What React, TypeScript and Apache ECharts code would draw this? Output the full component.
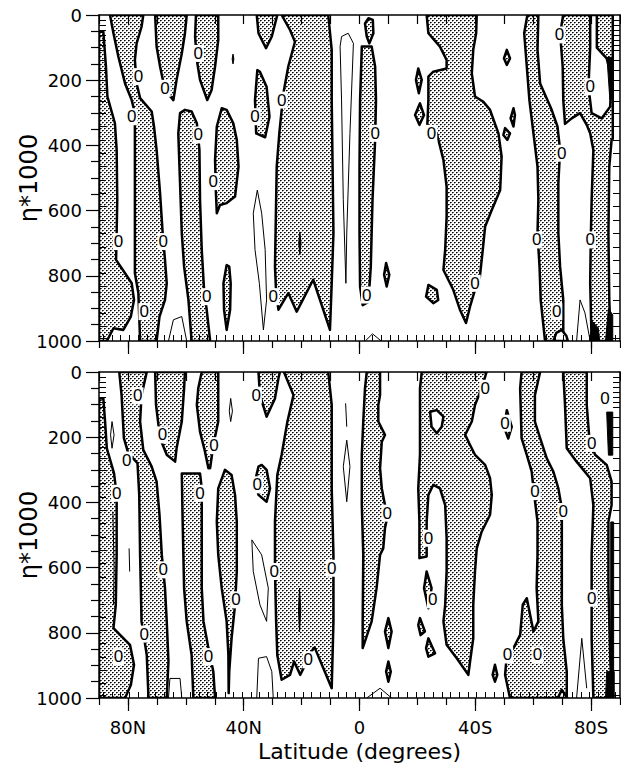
import React, { useEffect, useRef } from 'react';
import * as echarts from 'echarts';

// ---------- axis tick values ----------
const X_LABEL_LATS = [80, 40, 0, -40, -80];
const GRID_LATS = [88.5, 85.5, 82.5, 79.5, 76.5, 73.5, 70.5, 67.5, 64.5, 61.5, 58.5, 55.5, 52.5, 49.5, 46.5, 43.5, 40.5, 37.5, 34.5, 31.5, 28.5, 25.5, 22.5, 19.5, 16.5, 13.5, 10.5, 7.5, 4.5, 1.5, -1.5, -4.5, -7.5, -10.5, -13.5, -16.5, -19.5, -22.5, -25.5, -28.5, -31.5, -34.5, -37.5, -40.5, -43.5, -46.5, -49.5, -52.5, -55.5, -58.5, -61.5, -64.5, -67.5, -70.5, -73.5, -76.5, -79.5, -82.5, -85.5, -88.5];
const ETA_LEVELS = [15, 31, 46, 61, 77, 92, 107, 138, 169, 199, 230, 266, 301, 342, 383, 424, 465, 506, 547, 588, 629, 670, 711, 751, 792, 833, 874, 915, 956, 991];

// ---------- top panel: [latitude, eta*1000] ----------
const topNegative = [
  [[90, 51], [88.5, 51], [87.6, 158], [87.1, 250], [84.5, 332], [83.9, 414], [83.7, 567], [83.9, 669], [84.1, 751], [81.0, 792], [78.7, 823], [77.9, 874], [79.0, 925], [81.6, 966], [85.0, 961], [87.3, 1000], [90, 1000]],
  [[86.2, 0], [85.0, 56], [83.3, 128], [81.0, 210], [78.7, 261], [77.6, 301], [77.6, 567], [77.6, 792], [76.4, 853], [75.8, 1000], [70.1, 1000], [69.1, 925], [67.2, 874], [66.6, 823], [67.2, 751], [68.0, 669], [68.9, 547], [70.1, 414], [71.0, 342], [71.8, 296], [75.8, 255], [77.0, 210], [77.6, 138], [77.0, 87], [75.3, 36], [74.7, 0]],
  [[70.6, 0], [70.1, 97], [68.9, 158], [67.2, 230], [64.3, 261], [63.2, 199], [61.4, 118], [60.3, 56], [59.7, 0]],
  [[56.5, 0], [56.8, 66], [56.2, 138], [55.1, 199], [52.6, 261], [51.1, 230], [49.9, 158], [48.8, 77], [48.8, 0]],
  [[62.0, 301], [62.6, 363], [62.0, 516], [61.4, 669], [60.6, 772], [59.1, 874], [58.0, 1000], [51.6, 1000], [52.8, 904], [53.7, 843], [54.5, 720], [55.1, 567], [55.3, 414], [56.2, 332], [58.0, 296], [60.3, 291]],
  [[47.6, 286], [49.3, 342], [49.9, 445], [49.6, 547], [49.3, 608], [48.2, 583], [45.9, 577], [43.0, 557], [41.8, 465], [42.4, 383], [43.6, 332], [45.9, 291]],
  [[45.9, 767], [47.0, 823], [46.8, 904], [45.9, 966], [44.7, 904], [44.5, 823], [45.0, 772]],
  [[35.3, 169], [36.1, 261], [35.7, 363], [32.6, 375], [31.1, 312], [32.1, 220], [34.4, 174]],
  [[35.5, 0], [34.9, 56], [32.3, 102], [30.3, 66], [28.4, 0]],
  [[26.9, 0], [24.0, 46], [22.3, 82], [24.6, 158], [26.3, 240], [27.7, 363], [28.6, 465], [28.9, 618], [29.2, 772], [28.8, 853], [28.0, 904], [24.6, 853], [21.7, 910], [16.0, 812], [10.2, 966], [9.6, 823], [9.0, 669], [9.3, 465], [9.6, 261], [9.6, 107], [10.8, 0]],
  [[-1.9, 26], [-2.5, 66], [-3.4, 87], [-4.8, 56], [-4.6, 15], [-3.1, 10]],
  [[-0.8, 97], [-0.2, 261], [0.0, 465], [0.0, 669], [-0.2, 833], [-1.1, 890], [-3.1, 880], [-3.9, 772], [-4.5, 567], [-5.4, 383], [-5.7, 261], [-5.4, 158], [-4.2, 97]],
  [[-23.2, 0], [-23.8, 56], [-27.8, 97], [-30.1, 138], [-30.1, 164], [-25.5, 174], [-23.8, 189], [-23.8, 261], [-23.4, 342], [-24.4, 368], [-26.7, 363], [-29.0, 445], [-30.1, 526], [-30.1, 618], [-29.6, 720], [-29.0, 782], [-32.4, 843], [-34.7, 904], [-36.8, 945], [-38.2, 894], [-39.9, 843], [-41.6, 802], [-42.6, 720], [-43.4, 649], [-45.7, 598], [-48.6, 537], [-49.1, 434], [-48.0, 363], [-45.1, 291], [-42.8, 266], [-39.9, 250], [-38.8, 179], [-39.3, 107], [-40.3, 56], [-40.5, 0]],
  [[-50.9, 107], [-52.0, 133], [-50.9, 153], [-49.9, 133]],
  [[-20.3, 164], [-21.5, 199], [-20.5, 240], [-19.5, 199]],
  [[-20.9, 271], [-22.3, 307], [-20.7, 337], [-19.2, 307]],
  [[-50.3, 347], [-52.0, 363], [-51.1, 383], [-49.7, 368]],
  [[-53.2, 286], [-53.7, 307], [-53.2, 342], [-52.2, 317]],
  [[-9.2, 761], [-10.3, 797], [-9.4, 833], [-8.5, 797]],
  [[-23.8, 828], [-26.7, 843], [-27.2, 874], [-25.5, 884], [-23.0, 864]],
  [[-58.0, 0], [-56.9, 56], [-57.8, 158], [-58.7, 261], [-60.1, 363], [-61.5, 465], [-61.8, 567], [-61.5, 669], [-62.2, 772], [-62.6, 874], [-64.1, 1000], [-70.4, 1000], [-70.4, 874], [-69.3, 772], [-68.7, 669], [-68.7, 516], [-69.3, 414], [-68.4, 342], [-66.4, 291], [-62.4, 210], [-61.5, 107], [-61.8, 0]],
  [[-70.4, 0], [-87.5, 0], [-87.5, 380], [-87.1, 383], [-86.3, 465], [-86.0, 669], [-86.3, 874], [-86.8, 1000], [-80.2, 1000], [-79.7, 823], [-79.9, 690], [-80.2, 567], [-80.8, 414], [-79.7, 363], [-78.5, 337], [-76.2, 301], [-73.3, 317], [-71.0, 334], [-70.4, 261], [-70.2, 158], [-69.3, 56]],
];
const topHoles = [
  [[-79.7, 0], [-79.7, 100], [-79.1, 220], [-80.2, 301], [-83.7, 317], [-86.6, 281], [-87.1, 189], [-85.4, 133], [-82.0, 100], [-82.0, 0]],
  [[-67.0, 1000], [-68.0, 975], [-69.9, 966], [-71.5, 985], [-72.0, 1000]],
];
const topThin = [
  [[66.0, 1000], [64.3, 935], [61.4, 925], [59.7, 1000]],
  [[35.3, 537], [36.7, 608], [36.1, 720], [34.6, 823], [33.2, 966], [32.1, 874], [32.6, 720], [33.8, 608], [35.3, 537]],
  [[6.2, 66], [3.9, 56], [2.1, 87], [3.3, 363], [4.4, 669], [4.7, 823], [5.6, 567], [6.2, 261], [6.7, 97], [6.2, 66]],
  [[-75.0, 1000], [-76.2, 874], [-77.9, 914], [-79.7, 1000]],
  [[-2.0, 1000], [-4.5, 978], [-7.5, 1000]],
];
const topDense = [
  [[-79.5, 1000], [-80.5, 940], [-82.5, 960], [-83.0, 1000]],
  [[-85.0, 1000], [-86.0, 900], [-87.5, 920], [-87.5, 1000]],
  [[-85.5, 130], [-87.5, 130], [-87.5, 260], [-86.5, 260]],
  [[43.7, 120], [43.4, 135], [43.7, 150], [44.0, 135]],
  [[20.6, 665], [20.2, 700], [20.6, 735], [21.0, 700]],
];
const topZeroLabels = [
  [76.4, 189], [78.7, 312], [83.3, 695], [67.8, 695], [74.4, 910], [67.2, 225], [55.7, 118], [55.7, 368], [50.5, 511], [52.8, 864], [36.1, 312], [26.9, 261], [29.8, 864],
  [-5.4, 363], [-2.5, 859], [-24.9, 363], [-39.9, 823], [-69.9, 424], [-61.2, 690], [-68.1, 910], [-69.1, 61], [-79.7, 220], [-79.7, 690],
];

// ---------- bottom panel ----------
const botNegative = [
  [[90, 81], [88.5, 81], [87.9, 152], [87.3, 234], [84.8, 311], [83.9, 377], [83.9, 561], [84.2, 714], [85.0, 786], [82.2, 811], [79.3, 837], [77.9, 898], [79.0, 960], [81.0, 1000], [90, 1000]],
  [[83.0, 0], [82.2, 71], [81.4, 203], [79.9, 249], [76.7, 280], [76.1, 377], [75.8, 561], [75.3, 765], [73.5, 868], [72.9, 1000], [66.6, 1000], [66.0, 888], [66.6, 765], [67.2, 663], [68.3, 561], [69.1, 438], [70.1, 336], [71.8, 290], [74.7, 239], [75.8, 152], [75.3, 71], [73.5, 0]],
  [[70.6, 0], [70.3, 101], [68.9, 203], [66.6, 254], [63.7, 275], [63.2, 234], [61.4, 152], [60.6, 50], [60.3, 0]],
  [[54.5, 0], [55.7, 50], [56.2, 101], [55.1, 183], [53.4, 244], [52.2, 295], [51.6, 295], [50.5, 224], [48.8, 152], [48.8, 0]],
  [[61.4, 311], [61.1, 459], [60.6, 663], [59.7, 765], [58.0, 868], [57.4, 1000], [49.9, 1000], [50.5, 919], [52.2, 847], [53.9, 765], [54.5, 663], [54.5, 510], [54.5, 357], [55.1, 311]],
  [[46.5, 300], [48.8, 357], [49.3, 459], [48.8, 561], [47.6, 663], [45.9, 765], [45.3, 868], [45.2, 985], [45.0, 919], [44.2, 817], [43.0, 714], [42.4, 612], [42.4, 459], [43.0, 377], [44.2, 316]],
  [[34.9, 290], [36.1, 336], [34.9, 377], [32.1, 398], [30.9, 357], [32.1, 300], [33.8, 285]],
  [[34.9, 0], [34.4, 71], [32.1, 137], [29.2, 81], [28.0, 19], [27.5, 0]],
  [[26.1, 0], [22.8, 71], [24.9, 152], [26.9, 254], [28.4, 316], [29.2, 459], [29.2, 612], [28.8, 765], [28.4, 868], [26.9, 944], [24.0, 929], [22.6, 888], [20.5, 929], [15.9, 847], [15.4, 847], [9.6, 970], [9.0, 765], [9.0, 561], [9.6, 357], [9.6, 101], [10.8, 0]],
  [[-2.5, 0], [-1.9, 50], [-1.3, 152], [-0.8, 254], [-0.8, 408], [-1.3, 561], [-1.1, 765], [-1.1, 847], [-4.2, 765], [-5.9, 663], [-7.1, 561], [-8.2, 541], [-8.8, 479], [-10.0, 428], [-8.8, 408], [-7.7, 357], [-7.1, 295], [-7.7, 214], [-8.8, 193], [-6.5, 152], [-6.5, 101], [-7.1, 71], [-7.1, 0]],
  [[-21.5, 0], [-20.9, 50], [-20.9, 152], [-20.9, 254], [-20.3, 357], [-20.7, 459], [-20.7, 571], [-23.2, 566], [-23.2, 459], [-23.8, 377], [-25.5, 346], [-27.8, 357], [-29.6, 408], [-30.1, 510], [-30.1, 612], [-29.6, 714], [-29.0, 765], [-30.1, 837], [-33.6, 878], [-37.6, 929], [-38.2, 888], [-39.3, 817], [-39.3, 714], [-39.9, 612], [-40.5, 541], [-42.2, 490], [-45.1, 438], [-45.7, 377], [-45.1, 326], [-43.4, 285], [-39.9, 254], [-38.2, 224], [-36.5, 193], [-38.8, 152], [-39.9, 101], [-42.2, 50], [-43.9, 0]],
  [[-9.97, 755], [-11.1, 796], [-9.97, 847], [-8.8, 796]],
  [[-9.97, 888], [-10.8, 919], [-9.97, 950], [-9.2, 919]],
  [[-23.2, 612], [-24.9, 663], [-23.8, 725], [-22.3, 663]],
  [[-20.9, 755], [-22.6, 796], [-21.1, 807], [-20.3, 776]],
  [[-23.8, 817], [-26.1, 863], [-23.8, 873], [-23.0, 847]],
  [[-50.9, 117], [-52.6, 168], [-51.4, 204], [-49.9, 168]],
  [[-46.8, 898], [-47.6, 929], [-46.8, 950], [-46.0, 929]],
  [[-56.0, 0], [-55.5, 50], [-56.0, 203], [-57.8, 254], [-59.5, 306], [-60.1, 357], [-61.5, 459], [-61.5, 561], [-61.2, 663], [-61.8, 765], [-60.1, 796], [-57.8, 694], [-56.4, 714], [-55.5, 806], [-53.2, 847], [-50.9, 868], [-50.3, 929], [-52.0, 1000], [-71.6, 1000], [-71.6, 919], [-70.4, 817], [-69.9, 714], [-69.9, 561], [-69.9, 418], [-68.7, 357], [-67.0, 306], [-64.7, 265], [-62.4, 203], [-60.6, 152], [-60.6, 71], [-62.4, 0]],
  [[-70.4, 0], [-71.0, 101], [-71.6, 234], [-75.0, 275], [-79.7, 326], [-80.8, 408], [-80.2, 561], [-80.2, 694], [-80.2, 817], [-80.8, 1000], [-87.1, 1000], [-86.6, 868], [-86.0, 663], [-86.0, 459], [-87.1, 408], [-87.1, 336], [-85.4, 285], [-81.4, 254], [-79.4, 203], [-78.5, 101], [-78.5, 0]],
];
const botHoles = [
  [[-24.4, 122], [-26.7, 117], [-29.0, 137], [-28.4, 168], [-26.7, 188], [-24.9, 168]],
  [[-68.5, 1000], [-69.9, 975], [-71.8, 1000]],
];
const botThin = [
  [[85.5, 152], [84.8, 193], [85.5, 234], [86.0, 193], [85.5, 152]],
  [[85.2, 428], [84.8, 600], [85.0, 714]],
  [[79.6, 541], [79.4, 612]],
  [[66.0, 1000], [65.5, 940], [62.0, 940], [61.4, 1000]],
  [[37.2, 515], [33.8, 561], [31.5, 663], [32.1, 765], [34.4, 714], [36.7, 612], [37.2, 515]],
  [[35.5, 1000], [34.9, 878], [32.1, 873], [30.3, 919], [29.8, 1000]],
  [[44.5, 81], [43.9, 120], [44.5, 152], [45.0, 120], [44.5, 81]],
  [[4.4, 209], [5.6, 290], [4.4, 398], [3.3, 290], [4.4, 209]],
  [[4.8, 96], [4.4, 168]],
  [[-2.5, 1000], [-7.1, 970], [-11.1, 1000]],
  [[-75.0, 1000], [-76.8, 817], [-78.5, 970]],
];
const botDense = [
  [[-86.8, 460], [-87.8, 460], [-87.8, 1000], [-86.8, 1000]],
  [[-85.4, 919], [-88.0, 919], [-88.0, 1000], [-85.0, 1000]],
  [[-85.4, 123], [-87.5, 123], [-87.5, 255], [-86.0, 255]],
  [[20.7, 663], [20.3, 730], [20.7, 797], [21.1, 730]],
];
const botZeroLabels = [
  [76.6, 73], [68.1, 193], [80.4, 270], [83.9, 372], [74.4, 804], [83.3, 873], [67.8, 607], [55.1, 372], [50.3, 226], [52.2, 873], [42.7, 699], [35.7, 71], [35.3, 346], [29.5, 612], [17.7, 883],
  [9.6, 602], [-9.6, 433], [-23.8, 510], [-25.3, 699], [-43.4, 50], [-50.3, 157], [-51.1, 868], [-60.6, 367], [-70.4, 428], [-61.5, 868], [-80.2, 219], [-80.2, 694], [-84.8, 81],
];

const FONT = 'DejaVu Sans';

function latLabel(v: number) {
  if (v === 0) return '0';
  return v > 0 ? `${v}N` : `${-v}S`;
}

function makeStipple() {
  const c = document.createElement('canvas');
  c.width = 4;
  c.height = 4;
  const ctx = c.getContext('2d')!;
  ctx.fillStyle = '#ffffff';
  ctx.fillRect(0, 0, 4, 4);
  ctx.fillStyle = '#000000';
  ctx.fillRect(0, 0, 1, 1);
  ctx.fillRect(2, 2, 1, 1);
  ctx.fillStyle = '#555555';
  ctx.fillRect(1, 0, 1, 1);
  ctx.fillRect(3, 2, 1, 1);
  ctx.fillStyle = '#aaaaaa';
  ctx.fillRect(0, 1, 1, 1);
  ctx.fillRect(2, 3, 1, 1);
  return c;
}

function polySeries(xi: number, yi: number, polys: number[][][], kind: string, fill: any, z: number) {
  return {
    type: 'custom',
    xAxisIndex: xi,
    yAxisIndex: yi,
    clip: true,
    silent: true,
    z,
    data: polys.map((_, i) => [i]),
    renderItem: (params: any, api: any) => {
      const pts = polys[params.dataIndex].map((p) => api.coord(p));
      if (kind === 'line') {
        return { type: 'polyline', shape: { points: pts }, style: { stroke: '#000', lineWidth: 1, fill: null } };
      }
      return {
        type: 'polygon',
        shape: { points: pts },
        style: { fill, stroke: '#000', lineWidth: kind === 'dense' ? 1 : 2.5, lineJoin: 'round' },
      };
    },
  };
}

function labelSeries(xi: number, yi: number, pts: number[][]) {
  return {
    type: 'custom',
    xAxisIndex: xi,
    yAxisIndex: yi,
    clip: true,
    silent: true,
    z: 8,
    data: pts.map((_, i) => [i]),
    renderItem: (params: any, api: any) => {
      const c = api.coord(pts[params.dataIndex]);
      return {
        type: 'text',
        x: c[0],
        y: c[1],
        style: {
          text: '0',
          fill: '#000',
          font: '17px "Liberation Sans"',
          align: 'center',
          verticalAlign: 'middle',
          backgroundColor: '#fff',
          padding: [0, 1],
        },
      };
    },
  };
}

function panelAxes(gridIndex: number, showLabels: boolean) {
  const line = { show: true, onZero: false, lineStyle: { color: '#000', width: 1.5 } };
  const base = { gridIndex, type: 'value', min: -90, max: 90, inverse: true, splitLine: { show: false }, z: 10 };
  const xAxes = [
    { ...base, position: 'bottom', interval: 10, axisLine: line, axisTick: { show: true, length: 7, lineStyle: { color: '#000', width: 1.2 } }, axisLabel: { show: false } },
    {
      ...base, position: 'bottom', axisLine: { show: false, onZero: false },
      axisTick: { show: true, customValues: X_LABEL_LATS, length: 13, lineStyle: { color: '#000', width: 1.2 } },
      axisLabel: { show: showLabels, customValues: X_LABEL_LATS, formatter: (v: number) => latLabel(v), margin: 20, fontSize: 18, fontFamily: FONT, color: '#000' },
      name: showLabels ? 'Latitude (degrees)' : '', nameLocation: 'middle', nameGap: 42, nameMoveOverlap: false,
      nameTextStyle: { fontSize: 22, fontFamily: FONT, color: '#000' },
    },
    { ...base, position: 'bottom', axisLine: { show: false, onZero: false }, axisTick: { show: true, inside: true, customValues: GRID_LATS, length: 6, lineStyle: { color: '#000', width: 1 } }, axisLabel: { show: false } },
    { ...base, position: 'top', interval: 10, axisLine: line, axisTick: { show: true, inside: true, length: 9, lineStyle: { color: '#000', width: 1.2 } }, axisLabel: { show: false } },
  ];
  const ybase = { gridIndex, type: 'value', min: 0, max: 1000, inverse: true, splitLine: { show: false }, z: 10 };
  const yAxes = [
    {
      ...ybase, position: 'left', interval: 200, axisLine: line,
      axisTick: { show: true, length: 13, lineStyle: { color: '#000', width: 1.2 } },
      minorTick: { show: true, splitNumber: 4, length: 8, lineStyle: { color: '#000', width: 1.2 } },
      minorSplitLine: { show: false },
      axisLabel: { show: true, margin: 17, fontSize: 18, fontFamily: FONT, color: '#000', formatter: (v: number) => String(v) },
      name: 'η*1000', nameLocation: 'middle', nameGap: 58, nameMoveOverlap: false,
      nameTextStyle: { fontSize: 24, fontFamily: FONT, color: '#000' },
    },
    { ...ybase, position: 'left', axisLine: { show: false, onZero: false }, axisTick: { show: true, inside: true, customValues: ETA_LEVELS, length: 7, lineStyle: { color: '#000', width: 1 } }, axisLabel: { show: false } },
    { ...ybase, position: 'right', axisLine: line, axisTick: { show: true, inside: true, customValues: ETA_LEVELS, length: 7, lineStyle: { color: '#000', width: 1 } }, axisLabel: { show: false } },
  ];
  return { xAxes, yAxes };
}

export default function App() {
  const ref = useRef<HTMLDivElement>(null);
  useEffect(() => {
    const chart = echarts.init(ref.current!, null, { renderer: 'svg' });
    const stipple = { image: makeStipple(), repeat: 'repeat', imageWidth: 4, imageHeight: 4 };
    const top = panelAxes(0, false);
    const bot = panelAxes(1, true);
    const panels = [
      { xi: 0, yi: 0, neg: topNegative, holes: topHoles, thin: topThin, dense: topDense, labels: topZeroLabels },
      { xi: 4, yi: 3, neg: botNegative, holes: botHoles, thin: botThin, dense: botDense, labels: botZeroLabels },
    ];
    const series: any[] = [];
    panels.forEach((p) => {
      series.push(polySeries(p.xi, p.yi, p.neg, 'neg', stipple, 2));
      series.push(polySeries(p.xi, p.yi, p.holes, 'hole', '#fff', 3));
      series.push(polySeries(p.xi, p.yi, p.thin, 'line', null, 4));
      series.push(polySeries(p.xi, p.yi, p.dense, 'dense', '#000', 5));
      series.push(labelSeries(p.xi, p.yi, p.labels));
    });
    chart.setOption({
      animation: false,
      backgroundColor: '#fff',
      grid: [
        { left: 99, top: 15, width: 521, height: 326, containLabel: false, outerBoundsMode: 'none' },
        { left: 99, top: 372, width: 521, height: 326, containLabel: false, outerBoundsMode: 'none' },
      ],
      xAxis: [...top.xAxes, ...bot.xAxes],
      yAxis: [...top.yAxes, ...bot.yAxes],
      series,
    } as any);
    return () => chart.dispose();
  }, []);
  return <div ref={ref} style={{ position: 'fixed', left: 0, top: 0, width: 621, height: 765, background: '#fff' }} />;
}
